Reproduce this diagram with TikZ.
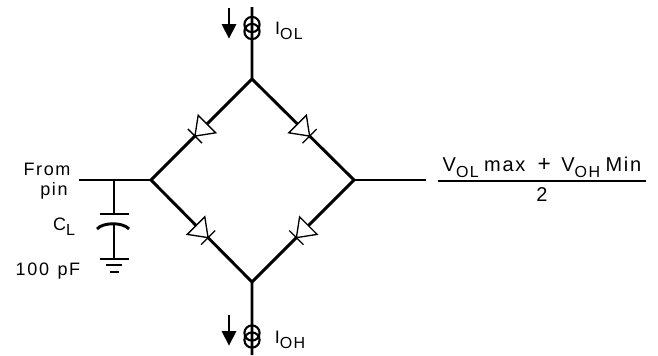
\documentclass[tikz,border=0pt]{standalone}
\usepackage{fontspec}
\setmainfont{Liberation Sans}[LetterSpace=9,WordSpace=1.3]
\usetikzlibrary{calc}
\tikzset{
  wire/.style={line width=2.2pt,line cap=butt},
  thinwire/.style={line width=1pt},
  loadsource/.style={line width=1.6pt},
  flowarrow/.style={fill=black,draw=none},
  lbl/.style={inner sep=0pt,font=\fontsize{13.5}{15}\selectfont},
  fraclbl/.style={inner sep=0pt,font=\fontsize{15}{16}\selectfont},
  pics/diode/.style={code={
      \draw[thinwire,fill=white] (0,0) -- (17,12.4) -- (17,-12.4) -- cycle;
      \draw[thinwire] (0,10) -- (0,-10);
  }},
  pics/flow/.style={code={
      \draw[line width=1.7pt] (0,0) -- (0,-18);
      \fill[flowarrow] (-7.5,-16) -- (7.5,-16) -- (0,-30.5) -- cycle;
  }}
}
\newcommand{\lowsub}[1]{\raisebox{-0.55ex}{\fontsize{12}{12}\selectfont #1}}
\begin{document}
\begin{tikzpicture}[x=0.75pt,y=0.75pt,yscale=-1,xscale=1]
  \useasboundingbox (0,0) rectangle (658,355);

  % bridge corners
  \coordinate (top) at (252,79);
  \coordinate (lft) at (151,180);
  \coordinate (rgt) at (354,180);
  \coordinate (bot) at (252,282);
  \coordinate (topend) at (252,7);
  \coordinate (botend) at (252,355);
  \coordinate (pinend) at (79,180);
  \coordinate (outend) at (426,180);
  \coordinate (captap) at (114,180);
  \coordinate (capone) at (114,214);
  \coordinate (captwo) at (114,224);
  \coordinate (capgnd) at (114,259);

  % wires
  \draw[wire] (topend) -- (top) -- (lft) -- (bot) -- (botend);
  \draw[wire] (top) -- (rgt) -- (bot);
  \draw[wire] (pinend) -- (lft);
  \draw[wire] (rgt) -- (outend);

  % diodes
  \pic[rotate=45] at ($(lft)!0.435!(top)$) {diode};
  \pic[rotate=135] at ($(rgt)!0.435!(top)$) {diode};
  \pic[rotate=135] at ($(lft)!0.565!(bot)$) {diode};
  \pic[rotate=45] at ($(rgt)!0.565!(bot)$) {diode};

  % current sources
  \draw[loadsource] (252,24.5) circle (7.6) (252,31.5) circle (7.6);
  \draw[loadsource] (252,333) circle (7.6) (252,340) circle (7.6);
  \pic at (229,8) {flow};
  \pic at (229,315) {flow};

  % load capacitor
  \draw[wire] (captap) -- (capone);
  \draw[wire] (100,214) -- (129,214);
  \draw[wire] (97,229) .. controls (103,222) and (123,222) .. (129,229);
  \draw[wire] (captwo) -- (capgnd);
  \draw[wire] (100,259) -- (129,259);
  \draw[wire] (106,265) -- (122,265);
  \draw[wire] (110,272) -- (119,272);

  % labels
  \node[lbl] (iol) at (289,31) {I\lowsub{OL}};
  \node[lbl] (ioh) at (290,340) {I\lowsub{OH}};
  \node[lbl] (from) at (47,169) {From};
  \node[lbl] (pin) at (54,191) {pin};
  \node[lbl] (cl) at (64,227) {C\lowsub{L}};
  \node[lbl] (cval) at (48,271) {100 pF};

  % output level
  \draw[wire,line width=1.6pt] (438,181) -- (646,181);
  \node[fraclbl] (vsum) at (542,167) {V\lowsub{OL}\hspace{4pt}max\hspace{9pt}{\fontsize{17}{17}\selectfont +}\hspace{8pt}V\lowsub{OH}\hspace{4pt}Min};
  \node[fraclbl] (two) at (542,195) {2};
\end{tikzpicture}
\end{document}
